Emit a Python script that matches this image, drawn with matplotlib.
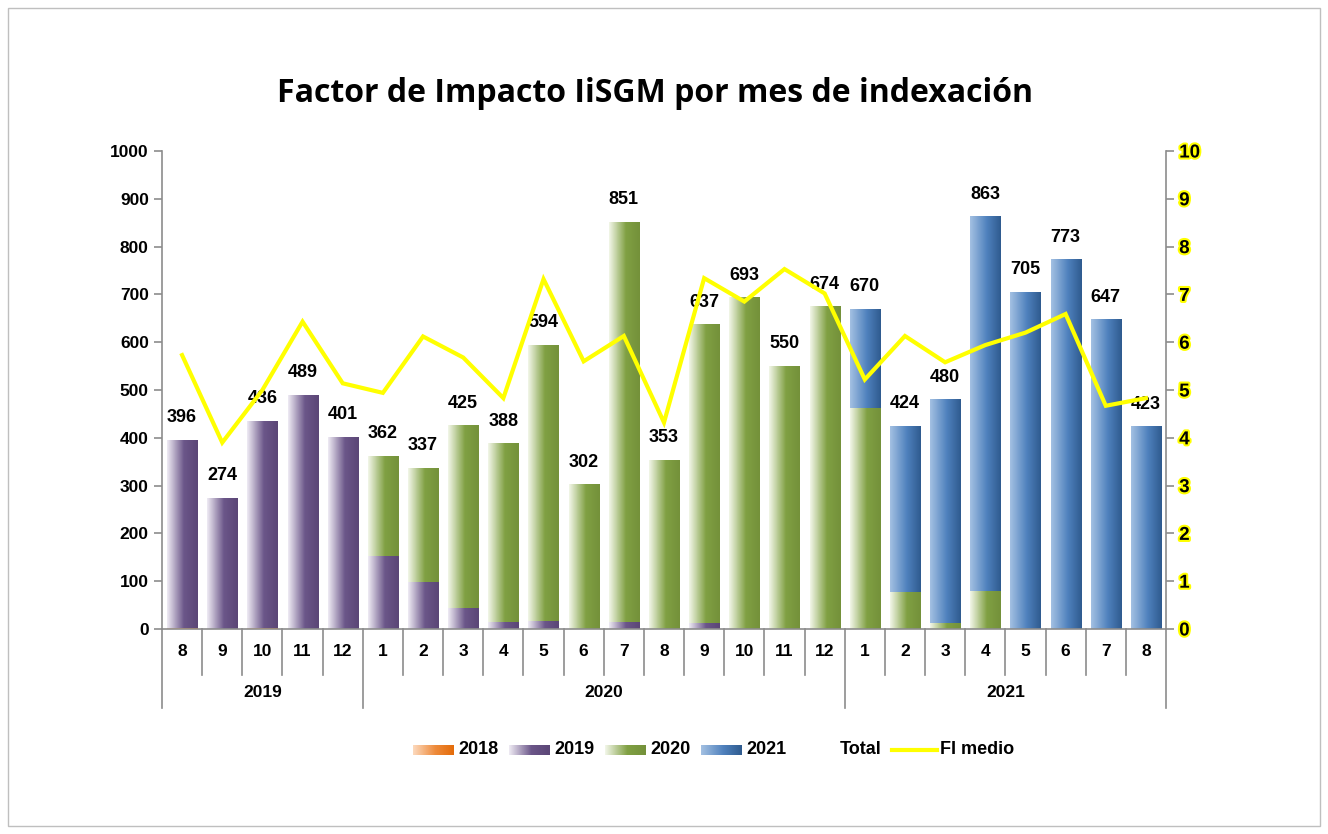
import numpy as np
import matplotlib
matplotlib.use("Agg")
import matplotlib.pyplot as plt
from matplotlib.colors import LinearSegmentedColormap
from matplotlib.patches import Rectangle
from matplotlib.lines import Line2D
import matplotlib.patheffects as pe

plt.rcParams['font.family'] = ['Liberation Sans', 'DejaVu Sans']

# Data
months = ['8', '9', '10', '11', '12',
          '1', '2', '3', '4', '5', '6', '7', '8', '9', '10', '11', '12',
          '1', '2', '3', '4', '5', '6', '7', '8']
years = ['2019', '2020', '2021']
year_spans = [(0, 4), (5, 16), (17, 24)]

totals = [396, 274, 436, 489, 401,
          362, 337, 425, 388, 594, 302, 851, 353, 637, 693, 550, 674,
          670, 424, 480, 863, 705, 773, 647, 423]
s2018 = [3, 0, 3, 0, 0,
         0, 0, 0, 0, 0, 0, 0, 0, 0, 0, 0, 0,
         0, 0, 0, 0, 0, 0, 0, 0]
s2019 = [393, 274, 433, 489, 401,
         153, 99, 43, 15, 17, 0, 15, 0, 13, 0, 0, 0,
         0, 0, 0, 0, 0, 0, 0, 0]
s2020 = [0, 0, 0, 0, 0,
         209, 238, 382, 373, 577, 302, 836, 353, 624, 693, 550, 674,
         463, 78, 12, 80, 0, 0, 0, 0]
s2021 = [0, 0, 0, 0, 0,
         0, 0, 0, 0, 0, 0, 0, 0, 0, 0, 0, 0,
         207, 346, 468, 783, 705, 773, 647, 423]
fi_medio = [5.73, 3.90, 5.0, 6.43, 5.14,
            4.94, 6.12, 5.68, 4.83, 7.32, 5.60, 6.13, 4.32, 7.34, 6.85, 7.53, 7.02,
            5.22, 6.13, 5.58, 5.94, 6.20, 6.59, 4.67, 4.83]

series = [('2018', s2018, ['#FCD9BD', '#EE8A3A', '#E46C0A']),
          ('2019', s2019, ['#EEEAF3', '#6B5689', '#5B4676']),
          ('2020', s2020, ['#F2F6E8', '#80A043', '#74913A']),
          ('2021', s2021, ['#A3C0E2', '#4F81BD', '#2F5B8F'])]
cmaps = {name: LinearSegmentedColormap.from_list('c' + name, [(0, c[0]), (0.55, c[1]), (1, c[2])])
         for name, _, c in series}

W, H = 1328, 834
fig = plt.figure(figsize=(W / 100, H / 100), dpi=100)
fig.patches.append(Rectangle((8 / W, 8 / H), 1 - 16 / W, 1 - 16 / H, transform=fig.transFigure,
                             fill=False, edgecolor='#BFBFBF', lw=1))

ax = fig.add_axes([162 / W, 1 - 629 / H, (1166 - 162) / W, (629 - 151) / H])
n = len(totals)
x = np.arange(n)
bw = 0.75
grad = np.linspace(0, 1, 64).reshape(1, -1)

# stacked bars with horizontal gradient fill
bottoms = np.zeros(n)
for name, vals, cols in series:
    for i in range(n):
        v = vals[i]
        if v <= 0:
            continue
        ax.imshow(grad, cmap=cmaps[name], aspect='auto', interpolation='bilinear',
                  extent=(x[i] - bw / 2, x[i] + bw / 2, bottoms[i], bottoms[i] + v), zorder=2)
    bottoms += np.array(vals)

for i, t in enumerate(totals):
    ax.annotate(str(t), (x[i], t), xytext=(0, 10), textcoords='offset points',
                ha='center', va='bottom', fontsize=13, fontweight='bold', zorder=5)

ax.set_xlim(-0.5, n - 0.5)
ax.set_ylim(0, 1000)
ax.set_yticks(np.arange(0, 1001, 100))
ax.set_xticks([])
for s in ['top', 'right']:
    ax.spines[s].set_visible(False)
for s in ['left', 'bottom']:
    ax.spines[s].set_color('#8C8C8C')
    ax.spines[s].set_linewidth(1.2)
ax.tick_params(axis='y', direction='out', length=6, width=1.2, color='#8C8C8C',
               labelsize=12.5)
for lab in ax.get_yticklabels():
    lab.set_fontweight('bold')

# two-level category axis
tr = ax.get_xaxis_transform()
for i in range(n + 1):
    xb = i - 0.5
    full = xb in (-0.5, 4.5, 16.5, n - 0.5)
    ax.plot([xb, xb], [0, -0.165 if full else -0.096], transform=tr, color='#8C8C8C',
            lw=1.2, clip_on=False)
for i, m in enumerate(months):
    ax.text(x[i], -0.048, m, transform=tr, ha='center', va='center', fontsize=12.5, fontweight='bold')
for yr, (a, b) in zip(years, year_spans):
    ax.text((a + b) / 2, -0.132, yr, transform=tr, ha='center', va='center', fontsize=12.5, fontweight='bold')

ax2 = ax.twinx()
ax2.plot(x, fi_medio, color='#FFFF00', lw=3, zorder=4, solid_joinstyle='miter')
ax2.set_ylim(0, 10)
ax2.set_yticks(np.arange(0, 11, 1))
for s in ['top', 'left', 'bottom']:
    ax2.spines[s].set_visible(False)
ax2.spines['right'].set_color('#8C8C8C')
ax2.spines['right'].set_linewidth(1.2)
ax2.tick_params(axis='y', direction='out', length=6, width=1.2, color='#8C8C8C', labelsize=13.5)
for lab in ax2.get_yticklabels():
    lab.set_fontweight('bold')
    lab.set_color('black')
    lab.set_path_effects([pe.withStroke(linewidth=3, foreground='#FFFF00')])

fig.text(0.493, 1 - 93 / H, 'Factor de Impacto IiSGM por mes de indexación', ha='center', va='center',
         fontsize=23, fontweight='bold', family=['Open Sans', 'DejaVu Sans'])

# legend
lax = fig.add_axes([0, 0, 1, 1], zorder=10)
ly = 750
for (name, vals, cols), px in zip(series, [413, 509, 605, 701]):
    lax.imshow(grad, cmap=cmaps[name], aspect='auto', interpolation='bilinear',
               extent=(px, px + 41, ly + 5, ly - 5))
    lax.text(px + 45, ly, name, ha='left', va='center', fontsize=13, fontweight='bold')
lax.text(840, ly, 'Total', ha='left', va='center', fontsize=13, fontweight='bold')
lax.add_line(Line2D([892, 937], [ly, ly], color='#FFFF00', lw=3))
lax.text(940, ly, 'FI medio', ha='left', va='center', fontsize=13, fontweight='bold')
lax.set_xlim(0, W)
lax.set_ylim(H, 0)
lax.axis('off')

fig.savefig('out.png', dpi=100)
